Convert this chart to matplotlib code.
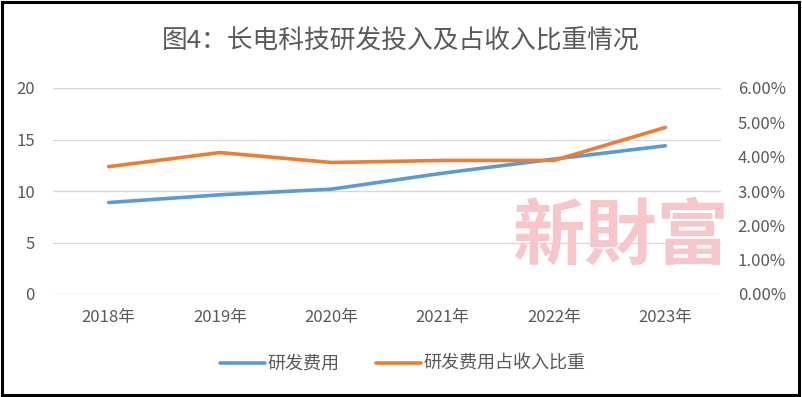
import matplotlib.pyplot as plt
from matplotlib.patches import Rectangle
from matplotlib.ticker import FuncFormatter

plt.rcParams['font.family'] = ['Noto Sans CJK SC', 'DejaVu Sans']

years = ['2018年', '2019年', '2020年', '2021年', '2022年', '2023年']
rd_cost = [8.88, 9.63, 10.18, 11.73, 13.1, 14.39]
rd_ratio = [3.71, 4.12, 3.83, 3.89, 3.89, 4.85]

gris = '#595959'
azul = '#5B9BD5'
naranja = '#ED7D31'

fig = plt.figure(figsize=(8.02, 3.97), dpi=100)
ax = fig.add_axes([53/802, 1-294/397, 668/802, 206/397])
ax2 = ax.twinx()

x = range(len(years))
l1, = ax.plot(x, rd_cost, color=azul, lw=2.6, solid_capstyle='round', label='研发费用')
l2, = ax2.plot(x, rd_ratio, color=naranja, lw=2.6, solid_capstyle='round', label='研发费用占收入比重')

ax.set_xlim(-0.5, len(years) - 0.5)
ax.set_ylim(0, 20)
ax.set_yticks([0, 5, 10, 15, 20])
ax2.set_ylim(0, 6)
ax2.set_yticks([0, 1, 2, 3, 4, 5, 6])
ax2.yaxis.set_major_formatter(FuncFormatter(lambda v, p: '%.2f%%' % v))
ax.set_xticks(list(x))
ax.set_xticklabels(years)

ax.grid(axis='y', color='#D9D9D9', lw=1)
ax.set_axisbelow(True)
for a in (ax, ax2):
    for s in a.spines.values():
        s.set_visible(False)
    a.tick_params(length=0, labelsize=12, colors=gris)
ax.tick_params(axis='y', pad=13)
ax.tick_params(axis='x', pad=11)
ax2.tick_params(axis='y', pad=12)

fig.text(0.5, 1-42/397, '图4：长电科技研发投入及占收入比重情况', ha='center', va='center',
         fontsize=18.5, color=gris)

fig.text(620/802, 1-238/397, '新財富', ha='center', va='center', fontsize=52,
         fontweight='bold', color='#F6C6CA',
         family=['Noto Sans CJK TC', 'DejaVu Sans'], zorder=0)

fig.legend(handles=[l1, l2], loc='center', bbox_to_anchor=(403/802, 1-364/397), ncol=2,
           frameon=False, fontsize=13, labelcolor=gris, handlelength=2.5,
           handletextpad=0.15, columnspacing=2.0)

fig.patches.append(Rectangle((0.002, 0.004), 0.994, 0.99, transform=fig.transFigure,
                             fill=False, edgecolor='black', lw=2.2))

fig.savefig('out.png', dpi=100)
